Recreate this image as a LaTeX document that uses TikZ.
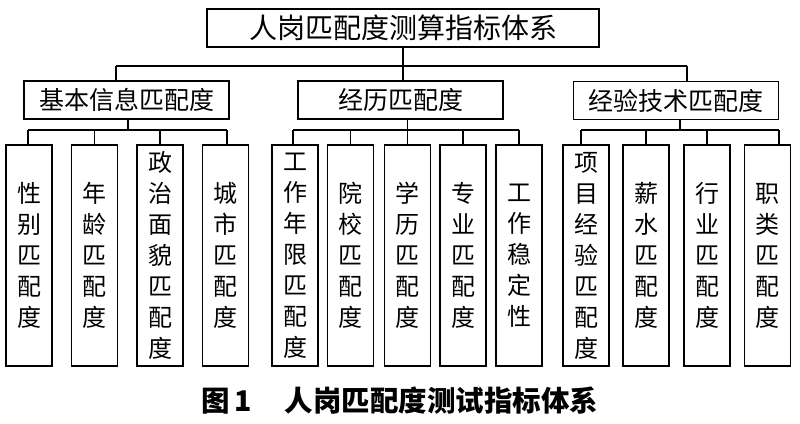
\documentclass[tikz,border=0pt]{standalone}
\usepackage{fontspec}
\usetikzlibrary{calc}
\newfontfamily\cjk{Noto Sans CJK SC}
\tikzstyle{rootbox}=[rectangle,draw=black,line width=1.3pt,inner sep=0pt,
  minimum width=392pt,minimum height=38pt,font=\cjk\fontsize{28}{28}\selectfont]
\tikzstyle{groupbox}=[rectangle,draw=black,line width=1.3pt,inner sep=0pt,
  minimum width=205pt,minimum height=38pt,font=\cjk\fontsize{25}{25}\selectfont]
\tikzstyle{leafbox}=[rectangle,draw=black,line width=1.3pt,inner sep=0pt,
  minimum width=46pt,minimum height=221pt,align=center,
  font=\cjk\fontsize{24}{31}\selectfont]
\tikzstyle{caption}=[inner sep=0pt,anchor=west,font=\cjk\bfseries\fontsize{28.5}{28.5}\selectfont]
\tikzstyle{none}=[inner sep=0pt]

\begin{document}
\begin{tikzpicture}[x=1pt,y=-1pt,line width=1.3pt]
            \useasboundingbox (0, 0) rectangle (800, 423);
            \node [style=rootbox] (1) at (403, 28) {人岗匹配度测算指标体系};
            \node [style=groupbox] (2) at (126.5, 100) {基本信息匹配度};
            \node [style=groupbox] (3) at (400.5, 100) {经历匹配度};
            \node [style=groupbox] (4) at (676, 100.5) {经验技术匹配度};
            \node [style=leafbox] (5) at (29, 255.5) {性\\别\\匹\\配\\度};
            \node [style=leafbox] (6) at (94.5, 255.5) {年\\龄\\匹\\配\\度};
            \node [style=leafbox] (7) at (160, 255.5) {政\\治\\面\\貌\\匹\\配\\度};
            \node [style=leafbox] (8) at (225.5, 255.5) {城\\市\\匹\\配\\度};
            \node [style=leafbox] (9) at (295, 255.5) {工\\作\\年\\限\\匹\\配\\度};
            \node [style=leafbox] (10) at (350.5, 255.5) {院\\校\\匹\\配\\度};
            \node [style=leafbox] (11) at (407.5, 255.5) {学\\历\\匹\\配\\度};
            \node [style=leafbox] (12) at (463, 255.5) {专\\业\\匹\\配\\度};
            \node [style=leafbox] (13) at (519, 255.5) {工\\作\\稳\\定\\性};
            \node [style=leafbox] (14) at (586, 255.5) {项\\目\\经\\验\\匹\\配\\度};
            \node [style=leafbox] (15) at (646, 255.5) {薪\\水\\匹\\配\\度};
            \node [style=leafbox] (16) at (707, 255.5) {行\\业\\匹\\配\\度};
            \node [style=leafbox] (17) at (767.5, 255.5) {职\\类\\匹\\配\\度};
            \node [style=caption] (18) at (201, 401) {图\hspace{4pt}1\hspace{33pt}人岗匹配度测试指标体系};
            \node [style=none] (20) at (116, 66) {};
            \node [style=none] (21) at (687, 66) {};
            \node [style=none] (22) at (403, 66) {};
            \node [style=none] (23) at (128, 130) {};
            \node [style=none] (24) at (28, 130) {};
            \node [style=none] (25) at (227, 130) {};
            \node [style=none] (26) at (680, 130) {};
            \node [style=none] (27) at (581, 130) {};
            \node [style=none] (28) at (779, 130) {};
            \draw (1.south) to (1.south |- 3.north);
            \draw (20.center) to (21.center);
            \draw (20.center) to (20.center |- 2.north);
            \draw (21.center) to (21.center |- 4.north);
            \draw (23.center |- 2.south) to (23.center);
            \draw (24.center) to (25.center);
            \draw (24.center) to (24.center |- 5.north);
            \draw (6.north |- 24.center) to (6.north);
            \draw (7.north |- 24.center) to (7.north);
            \draw (25.center) to (25.center |- 8.north);
            \draw (3.south -| 11.north) to (11.north);
            \node [style=none] (29) at (293, 130) {};
            \node [style=none] (30) at (519, 130) {};
            \draw (29.center) to (30.center);
            \draw (29.center) to (29.center |- 9.north);
            \draw (10.north |- 29.center) to (10.north);
            \draw (12.north |- 29.center) to (12.north);
            \draw (30.center) to (30.center |- 13.north);
            \draw (26.center |- 4.south) to (26.center);
            \draw (27.center) to (28.center);
            \draw (27.center) to (27.center |- 14.north);
            \draw (15.north |- 27.center) to (15.north);
            \draw (16.north |- 27.center) to (16.north);
            \draw (28.center) to (28.center |- 17.north);
    \end{tikzpicture}
\end{document}
